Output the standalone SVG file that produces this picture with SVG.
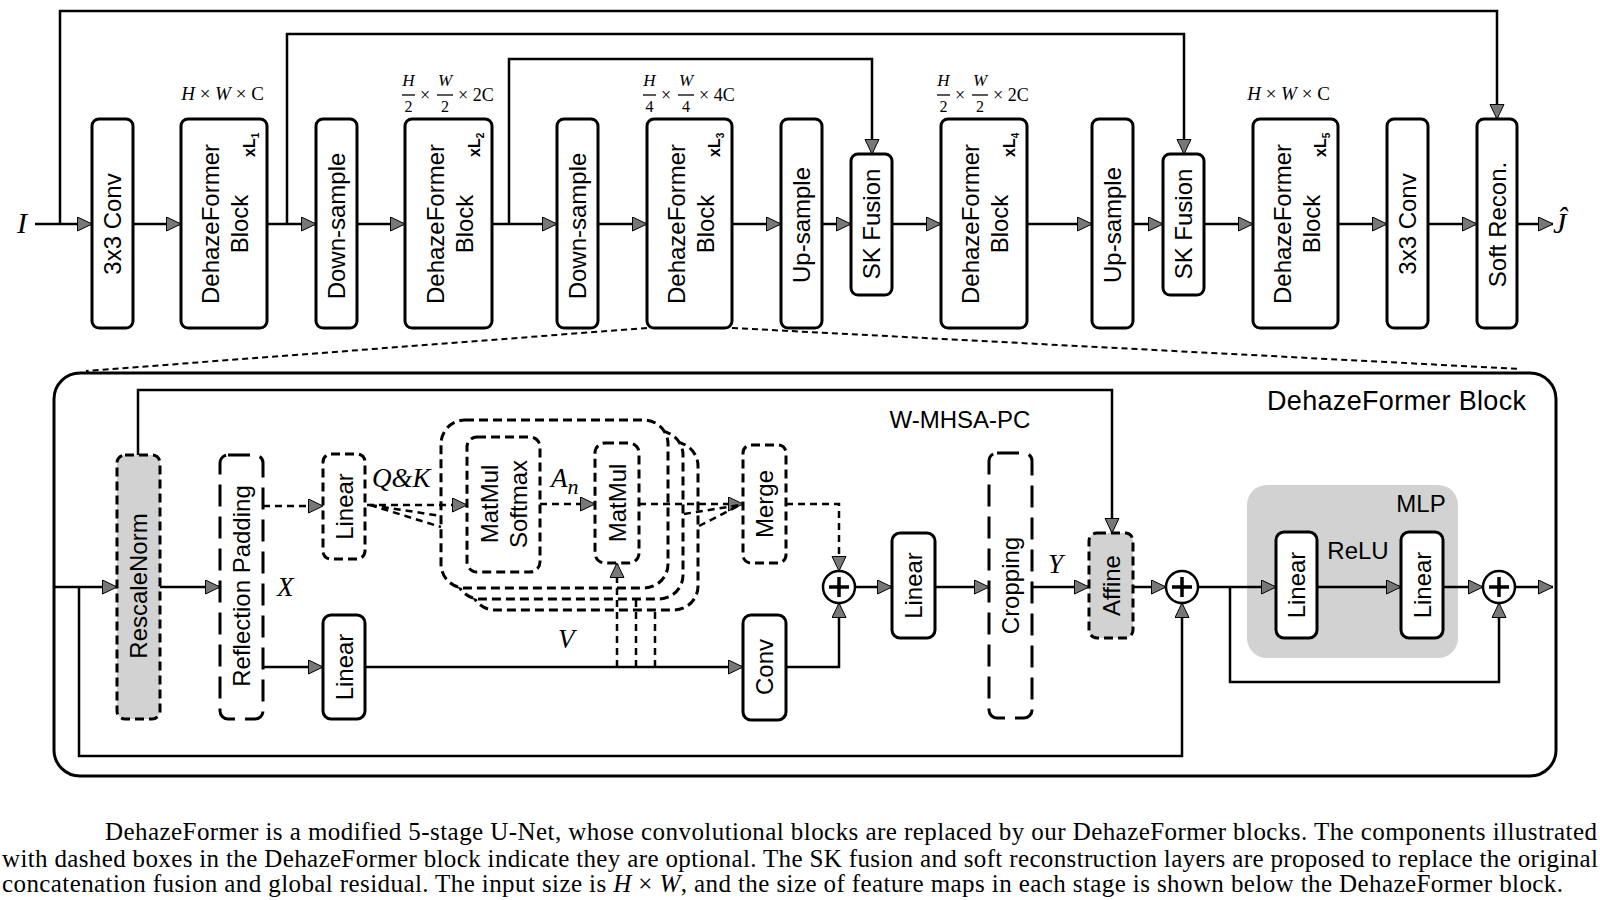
<svg xmlns="http://www.w3.org/2000/svg" width="1600" height="900" viewBox="0 0 1600 900">
<style>
.box{fill:#fff;stroke:#000;stroke-width:3}
.dbox{fill:#fff;stroke:#000;stroke-width:3;stroke-dasharray:9 5}
.ldbox{fill:none;stroke:#000;stroke-width:3;stroke-dasharray:22 10}
.gray{fill:#d2d2d2}
.ln{fill:none;stroke:#000;stroke-width:2.5}
.dln{stroke-dasharray:7 5}
.zl{fill:none;stroke:#000;stroke-width:2;stroke-dasharray:6 4}
.lbl{font-family:"Liberation Sans",Arial,sans-serif;font-size:24px;text-anchor:middle;fill:#000}
.xl{font-family:"Liberation Sans",Arial,sans-serif;font-size:16px;font-weight:bold;fill:#000}
.math{font-family:"Liberation Serif","Times New Roman",serif;font-style:italic;fill:#000}
.dim{font-family:"Liberation Serif","Times New Roman",serif;font-size:19px;fill:#000}
.fr{font-family:"Liberation Serif","Times New Roman",serif;font-size:17px;fill:#000;text-anchor:middle}
.frn{font-family:"Liberation Serif","Times New Roman",serif;font-size:16px;fill:#000;text-anchor:middle}
.frx{font-family:"Liberation Serif","Times New Roman",serif;font-size:18px;fill:#000}
.cap{font-family:"Liberation Serif","Times New Roman",serif;font-size:25px;fill:#000}
.sum circle{fill:#fff;stroke:#000;stroke-width:2.5}
.sum path{stroke:#000;stroke-width:3.5;fill:none}
</style>
<defs>
<marker id="a" markerUnits="userSpaceOnUse" markerWidth="16" markerHeight="16" viewBox="0 0 16 16" refX="15" refY="7.5" orient="auto">
<path d="M0.5,0.5 L15,7.5 L0.5,14.5 z" fill="#777" stroke="#000" stroke-width="1" stroke-dasharray="none"/>
</marker>
</defs>

<!-- top row nodes -->
<g id="conv1"><rect class="box" x="92" y="119" width="41" height="209" rx="7"/><text class="lbl" transform="translate(112.5,224) rotate(-90)" y="8.5">3x3 Conv</text></g>
<g id="blk1"><rect class="box" x="181" y="119" width="86" height="209" rx="7"/><text class="lbl" transform="translate(224,224) rotate(-90)"><tspan x="0" y="-5">DehazeFormer</tspan><tspan x="0" y="24">Block</tspan></text><text class="xl" transform="translate(255,157) rotate(-90)">xL<tspan font-size="10" dy="4">1</tspan></text></g>
<g id="down1"><rect class="box" x="316" y="119" width="41" height="209" rx="7"/><text class="lbl" transform="translate(336.5,226) rotate(-90)" y="8.5">Down-sample</text></g>
<g id="blk2"><rect class="box" x="405" y="119" width="87" height="209" rx="7"/><text class="lbl" transform="translate(448.5,224) rotate(-90)"><tspan x="0" y="-5">DehazeFormer</tspan><tspan x="0" y="24">Block</tspan></text><text class="xl" transform="translate(480,157) rotate(-90)">xL<tspan font-size="10" dy="4">2</tspan></text></g>
<g id="down2"><rect class="box" x="557" y="119" width="41" height="209" rx="7"/><text class="lbl" transform="translate(577.5,226) rotate(-90)" y="8.5">Down-sample</text></g>
<g id="blk3"><rect class="box" x="647" y="119" width="85" height="209" rx="7"/><text class="lbl" transform="translate(689.5,224) rotate(-90)"><tspan x="0" y="-5">DehazeFormer</tspan><tspan x="0" y="24">Block</tspan></text><text class="xl" transform="translate(720,157) rotate(-90)">xL<tspan font-size="10" dy="4">3</tspan></text></g>
<g id="up1"><rect class="box" x="781" y="119" width="41" height="209" rx="7"/><text class="lbl" transform="translate(801.5,225) rotate(-90)" y="8.5">Up-sample</text></g>
<g id="sk1"><rect class="box" x="851" y="154" width="41" height="141" rx="7"/><text class="lbl" transform="translate(871.5,224) rotate(-90)" y="8.5">SK Fusion</text></g>
<g id="blk4"><rect class="box" x="941" y="119" width="86" height="209" rx="7"/><text class="lbl" transform="translate(984,224) rotate(-90)"><tspan x="0" y="-5">DehazeFormer</tspan><tspan x="0" y="24">Block</tspan></text><text class="xl" transform="translate(1015,157) rotate(-90)">xL<tspan font-size="10" dy="4">4</tspan></text></g>
<g id="up2"><rect class="box" x="1092" y="119" width="41" height="209" rx="7"/><text class="lbl" transform="translate(1112.5,225) rotate(-90)" y="8.5">Up-sample</text></g>
<g id="sk2"><rect class="box" x="1163" y="154" width="41" height="141" rx="7"/><text class="lbl" transform="translate(1183.5,224) rotate(-90)" y="8.5">SK Fusion</text></g>
<g id="blk5"><rect class="box" x="1253" y="119" width="85" height="209" rx="7"/><text class="lbl" transform="translate(1295.5,224) rotate(-90)"><tspan x="0" y="-5">DehazeFormer</tspan><tspan x="0" y="24">Block</tspan></text><text class="xl" transform="translate(1326,157) rotate(-90)">xL<tspan font-size="10" dy="4">5</tspan></text></g>
<g id="conv2"><rect class="box" x="1387" y="119" width="41" height="209" rx="7"/><text class="lbl" transform="translate(1407.5,224) rotate(-90)" y="8.5">3x3 Conv</text></g>
<g id="soft"><rect class="box" x="1477" y="119" width="40" height="209" rx="7"/><text class="lbl" transform="translate(1497,224.5) rotate(-90)" y="8.5">Soft Recon.</text></g>

<!-- dimension labels -->
<g id="dims">
<text class="dim" x="222.5" y="100" text-anchor="middle"><tspan font-style="italic">H</tspan> × <tspan font-style="italic">W</tspan> × C</text>
<text class="dim" x="1288.5" y="100" text-anchor="middle"><tspan font-style="italic">H</tspan> × <tspan font-style="italic">W</tspan> × C</text>
<g transform="translate(402,0)">
<text class="fr" x="6.5" y="86" font-style="italic">H</text><path d="M0,95 H13" stroke="#000" stroke-width="1.3"/><text class="frn" x="6.5" y="112">2</text>
<text class="frx" x="23" y="101" text-anchor="middle">×</text>
<text class="fr" x="43" y="86" font-style="italic">W</text><path d="M35,95 H51" stroke="#000" stroke-width="1.3"/><text class="frn" x="43" y="112">2</text>
<text class="frx" x="56" y="101">× 2C</text>
</g>
<g transform="translate(643,0)">
<text class="fr" x="6.5" y="86" font-style="italic">H</text><path d="M0,95 H13" stroke="#000" stroke-width="1.3"/><text class="frn" x="6.5" y="112">4</text>
<text class="frx" x="23" y="101" text-anchor="middle">×</text>
<text class="fr" x="43" y="86" font-style="italic">W</text><path d="M35,95 H51" stroke="#000" stroke-width="1.3"/><text class="frn" x="43" y="112">4</text>
<text class="frx" x="56" y="101">× 4C</text>
</g>
<g transform="translate(937,0)">
<text class="fr" x="6.5" y="86" font-style="italic">H</text><path d="M0,95 H13" stroke="#000" stroke-width="1.3"/><text class="frn" x="6.5" y="112">2</text>
<text class="frx" x="23" y="101" text-anchor="middle">×</text>
<text class="fr" x="43" y="86" font-style="italic">W</text><path d="M35,95 H51" stroke="#000" stroke-width="1.3"/><text class="frn" x="43" y="112">2</text>
<text class="frx" x="56" y="101">× 2C</text>
</g>
<text class="math" x="17" y="233" font-size="30">I</text>
<text class="math" x="1553" y="233" font-size="30">Ĵ</text>
</g>

<!-- lower block nodes -->
<g id="outer"><rect x="54" y="373" width="1502" height="403" rx="26" fill="none" stroke="#000" stroke-width="3"/><text class="lbl" x="1396.5" y="410" style="font-size:27px" textLength="259" lengthAdjust="spacing">DehazeFormer Block</text></g>
<g id="mlp"><rect class="gray" x="1247" y="485" width="211" height="173" rx="20"/><text class="lbl" x="1421" y="512">MLP</text></g>
<g id="rescale"><rect class="dbox gray" x="117" y="455" width="43" height="264" rx="8"/><text class="lbl" transform="translate(138.5,586) rotate(-90)" y="8.5">RescaleNorm</text></g>
<g id="reflect"><rect class="ldbox" x="220" y="455" width="43" height="264" rx="8"/><text class="lbl" transform="translate(241.5,586) rotate(-90)" y="8.5">Reflection Padding</text></g>
<g id="linqk"><rect class="dbox" x="323" y="454" width="42" height="105" rx="8"/><text class="lbl" transform="translate(344,506.5) rotate(-90)" y="8.5">Linear</text></g>
<g id="linv"><rect class="box" x="323" y="615" width="42" height="104" rx="8"/><text class="lbl" transform="translate(344,667) rotate(-90)" y="8.5">Linear</text></g>
<g id="heads">
<rect class="dbox" x="471" y="442" width="227" height="168" rx="24"/>
<rect class="dbox" x="456" y="431" width="227" height="168" rx="24"/>
<rect class="dbox" x="441" y="420" width="227" height="168" rx="24"/>
</g>
<g id="matsoft"><rect class="dbox" x="467" y="437" width="73" height="135" rx="10"/><text class="lbl" transform="translate(503.5,504) rotate(-90)"><tspan x="0" y="-6">MatMul</tspan><tspan x="0" y="23">Softmax</tspan></text></g>
<g id="matmul"><rect class="dbox" x="595" y="443" width="44" height="120" rx="10"/><text class="lbl" transform="translate(617,503) rotate(-90)" y="8.5">MatMul</text></g>
<g id="merge"><rect class="dbox" x="743" y="445" width="43" height="118" rx="8"/><text class="lbl" transform="translate(764.5,504) rotate(-90)" y="8.5">Merge</text></g>
<g id="conv"><rect class="box" x="743" y="615" width="43" height="105" rx="8"/><text class="lbl" transform="translate(764.5,667) rotate(-90)" y="8.5">Conv</text></g>
<g id="sum1" class="sum"><circle cx="839" cy="587" r="16"/><path d="M829,587 H849 M839,577 V597"/></g>
<g id="lin2"><rect class="box" x="892" y="533" width="43" height="105" rx="8"/><text class="lbl" transform="translate(913.5,585.5) rotate(-90)" y="8.5">Linear</text></g>
<g id="crop"><rect class="ldbox" x="989" y="453" width="43" height="265" rx="8"/><text class="lbl" transform="translate(1010.5,585.5) rotate(-90)" y="8.5">Cropping</text><text class="lbl" x="960" y="428">W-MHSA-PC</text></g>
<g id="affine"><rect class="dbox gray" x="1089" y="533" width="44" height="105" rx="8"/><text class="lbl" transform="translate(1111,585.5) rotate(-90)" y="8.5">Affine</text></g>
<g id="sum2" class="sum"><circle cx="1182" cy="587" r="16"/><path d="M1172,587 H1192 M1182,577 V597"/></g>
<g id="mlplin1"><rect class="box" x="1276" y="532" width="41" height="106" rx="8"/><text class="lbl" transform="translate(1296.5,585) rotate(-90)" y="8.5">Linear</text></g>
<g id="mlplin2"><rect class="box" x="1401" y="532" width="42" height="106" rx="8"/><text class="lbl" transform="translate(1422,585) rotate(-90)" y="8.5">Linear</text></g>
<g id="sum3" class="sum"><circle cx="1499" cy="587" r="16"/><path d="M1489,587 H1509 M1499,577 V597"/></g>

<!-- math labels lower -->
<g id="mathlabels">
<text class="math" x="277" y="596" font-size="27">X</text>
<text class="math" x="372" y="487" font-size="27">Q&amp;K</text>
<text class="math" x="551" y="487" font-size="27">A<tspan font-size="22" dy="7">n</tspan></text>
<text class="math" x="558" y="648" font-size="27">V</text>
<text class="math" x="1048" y="573" font-size="27">Y</text>
<text class="lbl" x="1358" y="559">ReLU</text>
</g>

<!-- connectors -->
<g id="connectors">
<path class="ln" d="M35,224 H92" marker-end="url(#a)"/>
<path class="ln" d="M60,224 V11 H1497 V119" marker-end="url(#a)"/>
<path class="ln" d="M133,224 H181" marker-end="url(#a)"/>
<path class="ln" d="M267,224 H316" marker-end="url(#a)"/>
<path class="ln" d="M287,224 V34 H1184 V154" marker-end="url(#a)"/>
<path class="ln" d="M357,224 H405" marker-end="url(#a)"/>
<path class="ln" d="M492,224 H557" marker-end="url(#a)"/>
<path class="ln" d="M509,224 V59 H872 V154" marker-end="url(#a)"/>
<path class="ln" d="M598,224 H647" marker-end="url(#a)"/>
<path class="ln" d="M732,224 H781" marker-end="url(#a)"/>
<path class="ln" d="M822,224 H851" marker-end="url(#a)"/>
<path class="ln" d="M892,224 H941" marker-end="url(#a)"/>
<path class="ln" d="M1027,224 H1092" marker-end="url(#a)"/>
<path class="ln" d="M1133,224 H1163" marker-end="url(#a)"/>
<path class="ln" d="M1204,224 H1253" marker-end="url(#a)"/>
<path class="ln" d="M1338,224 H1387" marker-end="url(#a)"/>
<path class="ln" d="M1428,224 H1477" marker-end="url(#a)"/>
<path class="ln" d="M1517,224 H1553" marker-end="url(#a)"/>
<path class="zl" d="M647,328 L86,371"/>
<path class="zl" d="M732,328 L1520,369"/>

<path class="ln" d="M54,587 H117" marker-end="url(#a)"/>
<path class="ln" d="M79,587 V756 H1182 V603" marker-end="url(#a)"/>
<path class="ln" d="M138,455 V390 H1112 V533" marker-end="url(#a)"/>
<path class="ln" d="M160,587 H220" marker-end="url(#a)"/>
<path class="ln dln" d="M263,506 H323" marker-end="url(#a)"/>
<path class="ln" d="M263,667 H323" marker-end="url(#a)"/>
<path class="ln dln" d="M367,505 H467" marker-end="url(#a)"/>
<path class="ln dln" d="M370,505 L441,516 M370,505 L441,527"/>
<path class="ln dln" d="M540,504 H595" marker-end="url(#a)"/>
<path class="ln dln" d="M639,504 H743" marker-end="url(#a)"/>
<path class="ln dln" d="M684,514 L740,505 M699,526 L740,505"/>
<path class="ln" d="M365,667 H743" marker-end="url(#a)"/>
<path class="ln dln" d="M617,667 V563" marker-end="url(#a)"/>
<path class="ln dln" d="M636,667 V599 M655,667 V610"/>
<path class="ln dln" d="M786,504 H839 V571" marker-end="url(#a)"/>
<path class="ln" d="M786,667 H839 V603" marker-end="url(#a)"/>
<path class="ln" d="M855,587 H892" marker-end="url(#a)"/>
<path class="ln" d="M935,587 H989" marker-end="url(#a)"/>
<path class="ln" d="M1032,587 H1089" marker-end="url(#a)"/>
<path class="ln" d="M1133,587 H1166" marker-end="url(#a)"/>
<path class="ln" d="M1198,587 H1276" marker-end="url(#a)"/>
<path class="ln" d="M1230,587 V682 H1499 V603" marker-end="url(#a)"/>
<path class="ln" d="M1317,587 H1401" marker-end="url(#a)"/>
<path class="ln" d="M1443,587 H1483" marker-end="url(#a)"/>
<path class="ln" d="M1515,587 H1553" marker-end="url(#a)"/>
</g>

<!-- caption -->
<g id="caption">
<text class="cap" x="105" y="840" textLength="1492" lengthAdjust="spacing">DehazeFormer is a modified 5-stage U-Net, whose convolutional blocks are replaced by our DehazeFormer blocks. The components illustrated</text>
<text class="cap" x="2" y="867" textLength="1596" lengthAdjust="spacing">with dashed boxes in the DehazeFormer block indicate they are optional. The SK fusion and soft reconstruction layers are proposed to replace the original</text>
<text class="cap" x="2" y="892" textLength="1561" lengthAdjust="spacing">concatenation fusion and global residual. The input size is <tspan font-style="italic">H</tspan> × <tspan font-style="italic">W</tspan>, and the size of feature maps in each stage is shown below the DehazeFormer block.</text>
</g>
</svg>
